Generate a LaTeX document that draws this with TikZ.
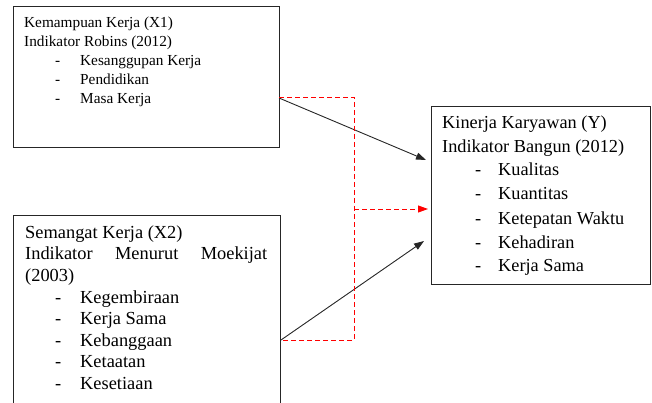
\documentclass[tikz,border=0pt]{standalone}
\usepackage{fontspec}
\setmainfont{Liberation Serif}
\usetikzlibrary{arrows.meta}
\begin{document}
\begin{tikzpicture}[x=1pt,y=-1pt,
  box/.style={draw=black!85, line width=0.9pt, inner sep=0pt, anchor=north west},
  tA/.style={anchor=base west, inner sep=0pt, font=\fontsize{15.3}{18}\selectfont},
  tB/.style={anchor=base west, inner sep=0pt, font=\fontsize{18.4}{21}\selectfont},
  tC/.style={anchor=base west, inner sep=0pt, font=\fontsize{18.3}{21}\selectfont},
  link/.style={draw=black!85, line width=0.9pt, -{Triangle[length=10pt,width=7pt]}},
  modpath/.style={draw=red, line width=0.9pt, dash pattern=on 5pt off 3pt},
  modlink/.style={modpath, -{Triangle[length=10pt,width=7pt,fill=red]}}]
\useasboundingbox (0,0) rectangle (652,403);
\clip (0,0) rectangle (652,403);

% the three variable boxes
\node[box, minimum width=266pt, minimum height=141pt] (x1) at (13,6) {};
\node[box, minimum width=267pt, minimum height=205pt] (x2) at (13,215) {};
\node[box, minimum width=219pt, minimum height=178pt] (y) at (431,106) {};

% X1: Kemampuan Kerja
\node[tA] (x1t1) at (24,28) {Kemampuan Kerja (X1)};
\node[tA] (x1t2) at (24,47) {Indikator Robins (2012)};
\foreach \yy/\txt [count=\i] in {66/Kesanggupan Kerja, 85/Pendidikan, 104/Masa Kerja}{
  \node[tA] (x1d\i) at (55,\yy) {-};
  \node[tA] (x1i\i) at (80,\yy) {\txt};
}

% X2: Semangat Kerja
\node[tB] (x2t1) at (25,238) {Semangat Kerja (X2)};
\node[tB] (x2t2) at (25,259) {\makebox[242pt][s]{Indikator Menurut Moekijat}};
\node[tB] (x2t3) at (25,281) {(2003)};
\foreach \yy/\txt [count=\i] in {303/Kegembiraan, 324/Kerja Sama, 346/Kebanggaan, 367/Ketaatan, 389/Kesetiaan}{
  \node[tB] (x2d\i) at (55,\yy) {-};
  \node[tB] (x2i\i) at (80,\yy) {\txt};
}

% Y: Kinerja Karyawan
\node[tC] (yt1) at (442,129) {Kinerja Karyawan (Y)};
\node[tC] (yt2) at (442,153) {Indikator Bangun (2012)};
\foreach \yy/\txt [count=\i] in {176/Kualitas, 200/Kuantitas, 224/Ketepatan Waktu, 248/Kehadiran, 271/Kerja Sama}{
  \node[tC] (yd\i) at (475,\yy) {-};
  \node[tC] (yi\i) at (498,\yy) {\txt};
}

% connector end points
\coordinate (x1out) at (279,98);
\coordinate (x2out) at (281,340);
\coordinate (yin1) at (426,160);
\coordinate (yin2) at (424,241);
\coordinate (yinm) at (428,209);
\coordinate (jtop) at (354,97);
\coordinate (jbot) at (354,340);
\coordinate (jmid) at (354,209);
\coordinate (x1red) at (279,97);
\coordinate (x2red) at (281,340);

% partial effects
\draw[link] (x1out) -- (yin1);
\draw[link] (x2out) -- (yin2);

% joint effect
\draw[modpath] (x1red) -- (jtop) -- (jbot) -- (x2red);
\draw[modlink] (jmid) -- (yinm);
\end{tikzpicture}
\end{document}
